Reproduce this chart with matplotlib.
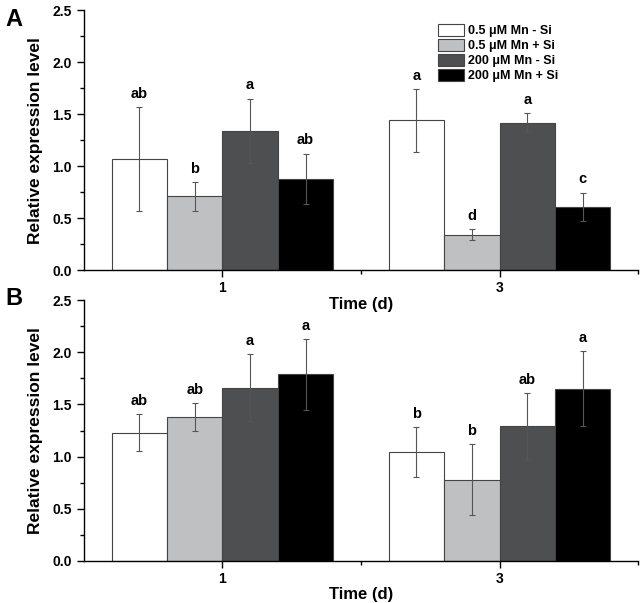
import matplotlib
matplotlib.use("Agg")
import matplotlib.pyplot as plt
import numpy as np
from matplotlib.ticker import MultipleLocator, FixedLocator, FormatStrFormatter

plt.rcParams['font.family'] = ['Liberation Sans', 'DejaVu Sans']
plt.rcParams['font.weight'] = 'bold'

times = ["1", "3"]
series = ["0.5 μM Mn - Si", "0.5 μM Mn + Si", "200 μM Mn - Si", "200 μM Mn + Si"]
colors = ["#ffffff", "#bfc0c2", "#4e4f51", "#000000"]

# Panel A
a_vals = [[1.07, 1.44], [0.71, 0.34], [1.34, 1.42], [0.88, 0.61]]
a_errs = [[0.50, 0.30], [0.14, 0.053], [0.31, 0.09], [0.24, 0.135]]
a_lbls = [["ab", "a"], ["b", "d"], ["a", "a"], ["ab", "c"]]

# Panel B
b_vals = [[1.23, 1.04], [1.38, 0.78], [1.66, 1.29], [1.79, 1.65]]
b_errs = [[0.18, 0.24], [0.13, 0.34], [0.32, 0.32], [0.34, 0.36]]
b_lbls = [["ab", "b"], ["ab", "b"], ["a", "ab"], ["a", "a"]]

fig = plt.figure(figsize=(6.4, 6.03), dpi=100)
axA = fig.add_axes([0.131, 0.552, 0.866, 0.431])
axB = fig.add_axes([0.131, 0.070, 0.866, 0.432])
axB.patch.set_visible(False)
axA.set_zorder(2)

w = 0.2
x = np.arange(len(times))

def draw(ax, vals, errs, lbls, legend=False):
    for i in range(4):
        pos = x + (i - 1.5) * w
        ax.bar(pos, vals[i], width=w, color=colors[i], edgecolor="#444444",
               linewidth=0.8, label=series[i], zorder=2)
        ax.errorbar(pos, vals[i], yerr=errs[i], fmt="none", ecolor="#555555",
                    elinewidth=0.8, capsize=2.5, capthick=0.8, zorder=3)
        for p, v, e, t in zip(pos, vals[i], errs[i], lbls[i]):
            ax.text(p, v + e + 0.06, t, ha="center", va="bottom",
                    fontsize=10.5, fontweight="bold")
    ax.set_xlim(-0.5, 1.5)
    ax.set_ylim(0, 2.5)
    ax.spines["top"].set_visible(False)
    ax.spines["right"].set_visible(False)
    ax.spines["left"].set_linewidth(1.0)
    ax.spines["bottom"].set_linewidth(1.0)
    ax.yaxis.set_major_locator(MultipleLocator(0.5))
    ax.yaxis.set_minor_locator(MultipleLocator(0.25))
    ax.yaxis.set_major_formatter(FormatStrFormatter("%.1f"))
    ax.set_xticks(x)
    ax.set_xticklabels(times)
    ax.xaxis.set_minor_locator(FixedLocator([0.5, 1.5]))
    ax.tick_params(axis="both", which="major", direction="out", length=5, width=1.0,
                   labelsize=10)
    ax.tick_params(axis="both", which="minor", direction="out", length=3, width=1.0)
    ax.tick_params(axis="x", which="major", pad=3)
    ax.set_xlabel("Time (d)", fontsize=12, fontweight="bold", labelpad=1)
    ax.set_ylabel("Relative expression level", fontsize=12.5, fontweight="bold", labelpad=7)
    for lab in ax.get_xticklabels() + ax.get_yticklabels():
        lab.set_fontweight("bold")
    if legend:
        ax.legend(loc="upper right", bbox_to_anchor=(0.865, 0.968), frameon=False,
                  fontsize=9, handlelength=2.1, handleheight=1.1,
                  handletextpad=0.3, labelspacing=0.15, borderaxespad=0)

draw(axA, a_vals, a_errs, a_lbls, legend=True)
draw(axB, b_vals, b_errs, b_lbls)

fig.text(0.008, 0.968, "A", fontsize=17, fontweight="bold", va="center")
fig.text(0.008, 0.505, "B", fontsize=17, fontweight="bold", va="center")

fig.savefig("out.png", dpi=100)
